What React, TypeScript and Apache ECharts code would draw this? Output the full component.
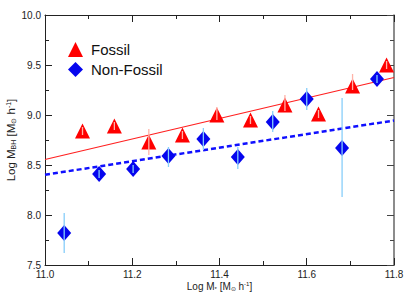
import React, { useEffect, useRef } from "react";
import * as echarts from "echarts";

// ---- data ----
const fossilX = [11.086, 11.159, 11.238, 11.315, 11.394, 11.471, 11.55, 11.627, 11.705, 11.783];
const fossilY = [8.84, 8.89, 8.73, 8.8, 9.0, 8.95, 9.1, 9.01, 9.29, 9.5];
const fossilLo = [8.8, 8.85, 8.6, 8.76, 8.95, 8.91, 9.04, 8.97, 9.25, 9.46];
const fossilHi = [8.88, 8.93, 8.86, 8.84, 9.08, 8.99, 9.2, 9.05, 9.41, 9.54];

const nonFossilX = [11.044, 11.124, 11.202, 11.283, 11.363, 11.442, 11.522, 11.6, 11.681, 11.761];
const nonFossilY = [7.82, 8.41, 8.46, 8.59, 8.76, 8.58, 8.93, 9.16, 8.67, 9.36];
const nonFossilLo = [7.62, 8.37, 8.42, 8.48, 8.65, 8.46, 8.83, 9.05, 8.18, 9.32];
const nonFossilHi = [8.02, 8.45, 8.5, 8.68, 8.87, 8.68, 9.04, 9.27, 9.17, 9.4];

const fitFossilX = [11.0, 11.8];
const fitFossilY = [8.555, 9.375];
const fitNonFossilX = [11.0, 11.8];
const fitNonFossilY = [8.402, 8.945];

const xMin = 11.0, xMax = 11.8, xStep = 0.2;
const yMin = 7.5, yMax = 10.0, yStep = 0.5;

const FONT = "'Liberation Sans', Arial, Helvetica, sans-serif";

function errSeries(xs: number[], lo: number[], hi: number[], color: string, width: number) {
  return {
    type: "custom",
    xAxisIndex: 0,
    yAxisIndex: 0,
    z: 5,
    silent: true,
    data: xs.map((x, i) => [x, lo[i], hi[i]]),
    renderItem: (params: any, api: any) => {
      const p1 = api.coord([api.value(0), api.value(1)]);
      const p2 = api.coord([api.value(0), api.value(2)]);
      return {
        type: "line",
        shape: { x1: p1[0], y1: p1[1], x2: p2[0], y2: p2[1] },
        style: { stroke: color, lineWidth: width },
      };
    },
  };
}

export default function App() {
  const ref = useRef<HTMLDivElement>(null);
  useEffect(() => {
    if (!ref.current) return;
    const chart = echarts.init(ref.current, null, { renderer: "svg" });
    const labelStyle = { fontFamily: FONT, fontSize: 10, color: "#222" };
    const richX = {
      a: { fontFamily: FONT, fontSize: 10, lineHeight: 11, color: "#222" },
      s: { fontFamily: FONT, fontSize: 6, lineHeight: 11, color: "#222", verticalAlign: "bottom" },
      p: { fontFamily: FONT, fontSize: 6, lineHeight: 11, color: "#222", verticalAlign: "top" },
    };
    const richY = {
      a: { fontFamily: FONT, fontSize: 11.5, color: "#222" },
      s: { fontFamily: FONT, fontSize: 7, color: "#222", verticalAlign: "bottom", padding: [4, 0, 0, 0] },
      p: { fontFamily: FONT, fontSize: 7, color: "#222", verticalAlign: "top", padding: [0, 0, 4, 0] },
    };
    const tickIn = { show: true, inside: true, length: 7, lineStyle: { color: "#222" } };
    const minorIn = { show: true, splitNumber: 2, length: 4, lineStyle: { color: "#222" } };
    chart.setOption({
      animation: false,
      backgroundColor: "#fff",
      grid: { left: 45, right: 13, top: 15, bottom: 40, containLabel: false, outerBoundsMode: "none" },
      legend: {
        orient: "vertical",
        left: 63,
        top: 37,
        itemWidth: 15,
        itemHeight: 15,
        itemGap: 5,
        data: [
          { name: "Fossil", icon: "triangle" },
          { name: "Non-Fossil", icon: "diamond" },
        ],
        textStyle: { fontFamily: FONT, fontSize: 15, color: "#111", padding: [0, 0, 0, 3] },
      },
      xAxis: [
        {
          type: "value",
          min: xMin,
          max: xMax,
          interval: xStep,
          position: "bottom",
          axisLine: { show: true, onZero: false, lineStyle: { color: "#222" } },
          axisTick: tickIn,
          minorTick: minorIn,
          splitLine: { show: false },
          axisLabel: { ...labelStyle, margin: 4, formatter: (v: number) => v.toFixed(1) },
          name: "{a|Log M}{s|*}{a| [M}{s|⊙}{a| h}{p|-1}{a|]}",
          nameLocation: "middle",
          nameGap: 16,
          nameMoveOverlap: false,
          nameTextStyle: { rich: richX },
        },
        {
          type: "value",
          min: xMin,
          max: xMax,
          interval: xStep,
          position: "top",
          axisLine: { show: true, onZero: false, lineStyle: { color: "#222" } },
          axisTick: tickIn,
          minorTick: minorIn,
          splitLine: { show: false },
          axisLabel: { show: false },
        },
      ],
      yAxis: [
        {
          type: "value",
          min: yMin,
          max: yMax,
          interval: yStep,
          position: "left",
          axisLine: { show: true, onZero: false, lineStyle: { color: "#222" } },
          axisTick: tickIn,
          minorTick: minorIn,
          splitLine: { show: false },
          axisLabel: { ...labelStyle, margin: 4, formatter: (v: number) => v.toFixed(1) },
          name: "{a|Log M}{s|BH}{a| [M}{s|⊙}{a| h}{p|-1}{a|]}",
          nameLocation: "middle",
          nameRotate: 90,
          nameGap: 28,
          nameMoveOverlap: false,
          nameTextStyle: { rich: richY },
        },
        {
          type: "value",
          min: yMin,
          max: yMax,
          interval: yStep,
          position: "right",
          axisLine: { show: true, onZero: false, lineStyle: { color: "#666", width: 1.5 } },
          axisTick: { ...tickIn, lineStyle: { color: "#444" } },
          minorTick: { ...minorIn, lineStyle: { color: "#444" } },
          splitLine: { show: false },
          axisLabel: { show: false },
        },
      ],
      series: [
        {
          name: "fitFossil",
          type: "line",
          data: fitFossilX.map((x, i) => [x, fitFossilY[i]]),
          symbol: "none",
          lineStyle: { color: "#ff2020", width: 1.2 },
          z: 1,
          silent: true,
        },
        {
          name: "fitNonFossil",
          type: "line",
          data: fitNonFossilX.map((x, i) => [x, fitNonFossilY[i]]),
          symbol: "none",
          lineStyle: { color: "#1010ff", width: 2.5, type: [5, 3] },
          z: 1,
          silent: true,
        },
        {
          name: "Fossil",
          type: "scatter",
          symbol: "triangle",
          symbolSize: [15, 15],
          itemStyle: { color: "#ff0000", opacity: 1 },
          data: fossilX.map((x, i) => [x, fossilY[i]]),
          z: 3,
        },
        {
          name: "Non-Fossil",
          type: "scatter",
          symbol: "diamond",
          symbolSize: [14, 16],
          itemStyle: { color: "#0505ee", opacity: 1 },
          data: nonFossilX.map((x, i) => [x, nonFossilY[i]]),
          z: 3,
        },
        errSeries(fossilX, fossilLo, fossilHi, "#ffb3a8", 1.3),
        errSeries(nonFossilX, nonFossilLo, nonFossilHi, "#87cefa", 1.3),
      ],
    });
    return () => chart.dispose();
  }, []);
  return <div ref={ref} style={{ position: "fixed", left: 0, top: 0, width: 407, height: 305 }} />;
}
